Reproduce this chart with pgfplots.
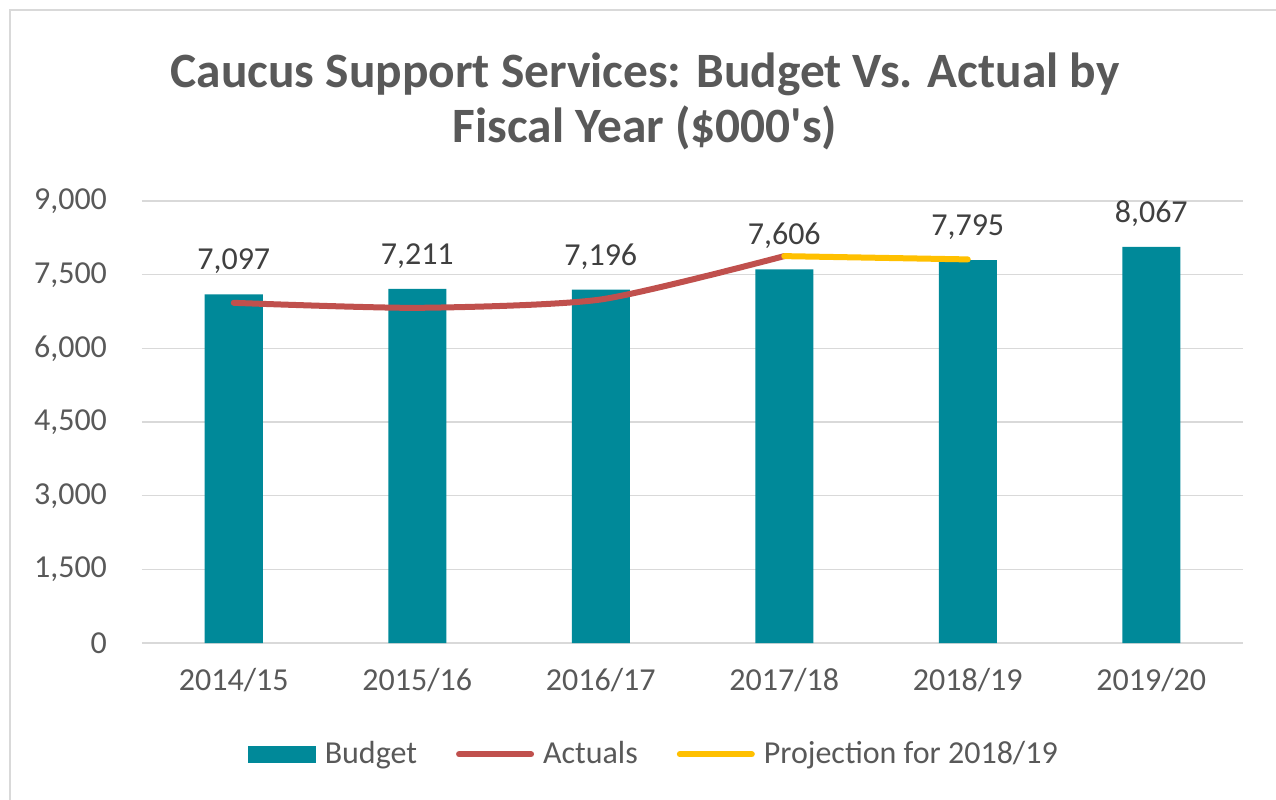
\documentclass[border=0pt]{standalone}
\usepackage{fontspec}
\setmainfont{Carlito}
\newfontfamily\titlefont{Carlito}[Ligatures=TeXOff]
\usepackage{pgfplots}
\pgfplotsset{compat=1.18}
\definecolor{budgetc}{RGB}{0,137,153}
\definecolor{actc}{RGB}{192,80,77}
\definecolor{projc}{RGB}{255,192,0}
\definecolor{gridc}{RGB}{217,217,217}
\definecolor{txtc}{RGB}{89,89,89}
\definecolor{lblc}{RGB}{64,64,64}
\begin{document}
\begin{tikzpicture}[x=1pt,y=1pt]
\useasboundingbox (0,0) rectangle (638,399.5);
\clip (0,0) rectangle (638,399.5);
\fill[white] (0,0) rectangle (638,399.5);
\draw[gridc, line width=1.2pt] (5,-10) rectangle (700,394.5);
\node[anchor=base, font=\titlefont\bfseries\fontsize{24.7}{29}\selectfont, text=txtc] at (322.5,355.5) {Caucus Support Services: Budget Vs. Actual by};
\node[anchor=base, font=\titlefont\bfseries\fontsize{24.7}{29}\selectfont, text=txtc] at (322.5,328) {Fiscal Year (\$000's)};
\begin{axis}[
  at={(71pt,78pt)}, anchor=south west,
  scale only axis, width=550.5pt, height=221pt,
  xmin=-0.5, xmax=5.5, ymin=0, ymax=9000,
  xtick={0,1,2,3,4,5},
  xticklabels={2014/15,2015/16,2016/17,2017/18,2018/19,2019/20},
  ytick={0,1500,3000,4500,6000,7500,9000},
  axis line style={draw=none},
  major tick length=0pt,
  ymajorgrids, grid style={gridc, line width=0.75pt},
  /pgf/number format/1000 sep={,},
  /pgf/number format/assume math mode=true,
  tick label style={font=\fontsize{16}{19}\selectfont, text=txtc},
  yticklabel style={xshift=-14pt},
  xticklabel style={yshift=-9pt},
  legend columns=3,
  legend style={at={(0.468,-0.2517)}, anchor=center, draw=none, fill=none,
    font=\fontsize{16}{19}\selectfont, text=txtc,
    /tikz/every even column/.append style={column sep=15pt},
    nodes={inner xsep=4.5pt, inner ysep=1pt}},
]
\addplot[ybar, bar width=29pt, bar shift=0pt, fill=budgetc, draw=none,
  nodes near coords,
  every node near coord/.append style={font=\fontsize{16}{19}\selectfont, text=lblc, inner sep=0pt, yshift=10pt},
  legend image code/.code={\fill[budgetc] (0pt,-4.25pt) rectangle (34pt,4.25pt);}]
  coordinates {(0,7097) (1,7211) (2,7196) (3,7606) (4,7795) (5,8067)};
\addlegendentry{Budget}
\addplot[actc, line width=3pt, line cap=round, line join=round, smooth, tension=0.4, no markers,
  legend image code/.code={\draw[actc, line width=3pt, line cap=round] (0pt,0pt) -- (36pt,0pt);}]
  coordinates {(0,6927) (1,6825) (2,6995) (3,7878)};
\addlegendentry{Actuals}
\addplot[projc, line width=3pt, line cap=round, no markers,
  legend image code/.code={\draw[projc, line width=3pt, line cap=round] (0pt,0pt) -- (36pt,0pt);}]
  coordinates {(3,7878) (4,7811)};
\addlegendentry{Projection for 2018/19}
\end{axis}
\end{tikzpicture}
\end{document}
